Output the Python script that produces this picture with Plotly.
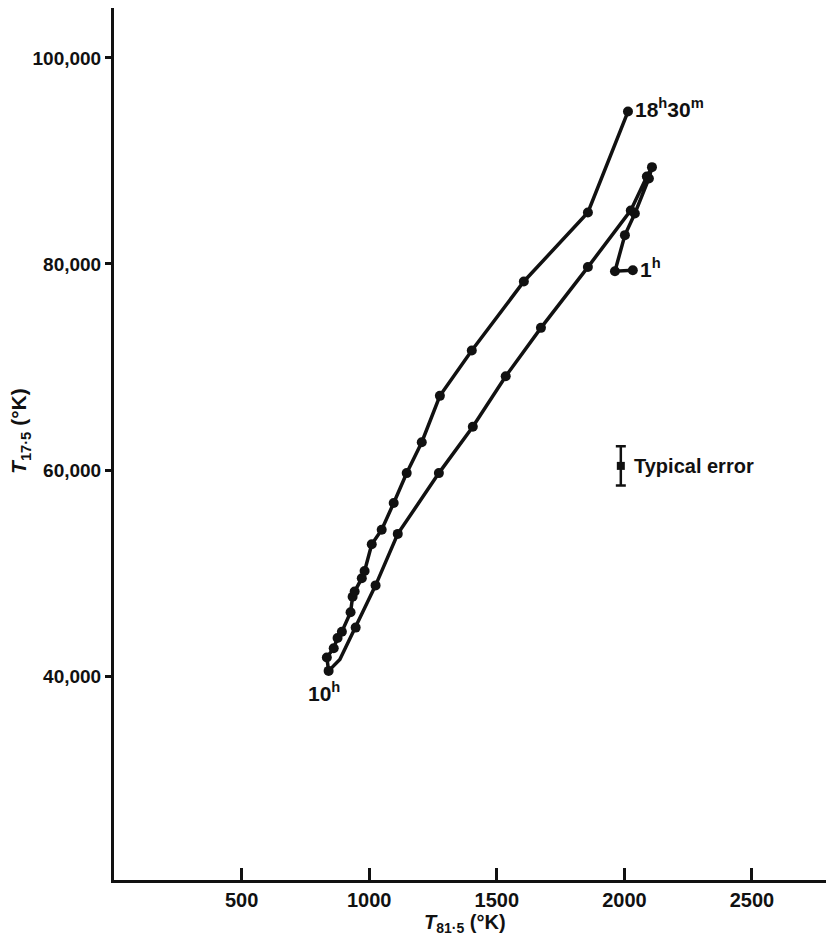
import plotly.graph_objects as go

# Temperature track, in time order from 1h to 18h30m
t81 = [2033, 1963, 2002, 2041, 2096, 2108, 2088, 2025,
       1857, 1673, 1535, 1406, 1273, 1112, 1025, 947, 885, 841,
       834, 861, 876, 893, 927, 935, 943, 971, 982, 1010, 1049,
       1096, 1147, 1206, 1277, 1402, 1606, 1857, 2014]
t17 = [79400, 79300, 82800, 84900, 88300, 89400, 88500, 85200,
       79700, 73800, 69100, 64200, 59700, 53800, 48800, 44700, 41600, 40500,
       41800, 42700, 43700, 44300, 46200, 47700, 48200, 49500, 50200, 52800, 54200,
       56800, 59700, 62700, 67200, 71600, 78300, 85000, 94800]
# Markers drawn on the track (the turn at the 10h end carries no dot)
dot_idx = [i for i in range(len(t81)) if i != 16]

# Typical error bar
err_x = [1986]
err_y = [60400]
err_half = [1900]

x_ticks = [500, 1000, 1500, 2000, 2500]
y_ticks = [40000, 60000, 80000, 100000]
y_ticklabels = ["40,000", "60,000", "80,000", "100,000"]

FONT = "Liberation Sans"
INK = "#111111"

fig = go.Figure()
fig.add_trace(go.Scatter(
    x=t81, y=t17, mode="lines",
    line=dict(color=INK, width=3.5), hoverinfo="skip", showlegend=False))
fig.add_trace(go.Scatter(
    x=[t81[i] for i in dot_idx], y=[t17[i] for i in dot_idx], mode="markers",
    marker=dict(color=INK, size=10, symbol="circle"), showlegend=False))
fig.add_trace(go.Scatter(
    x=err_x, y=err_y, mode="markers",
    marker=dict(color=INK, size=8, symbol="square"),
    error_y=dict(type="data", array=err_half, visible=True,
                 color=INK, thickness=2.5, width=5),
    showlegend=False))

ann_font = dict(family=FONT, size=21, color=INK, weight=700)
fig.add_annotation(x=2014, y=94800, text="18<sup>h</sup>30<sup>m</sup>",
                   showarrow=False, xanchor="left", yanchor="middle",
                   xshift=5, yshift=4, font=ann_font)
fig.add_annotation(x=2033, y=79400, text="1<sup>h</sup>",
                   showarrow=False, xanchor="left", yanchor="middle",
                   xshift=5, yshift=2, font=ann_font)
fig.add_annotation(x=830, y=40500, text="10<sup>h</sup>",
                   showarrow=False, xanchor="center", yanchor="top",
                   xshift=-2, yshift=-6, font=ann_font)
fig.add_annotation(x=err_x[0], y=err_y[0], text="Typical error",
                   showarrow=False, xanchor="left", yanchor="middle",
                   xshift=11, font=dict(family=FONT, size=20, color=INK, weight=700))

# Axis titles
fig.add_annotation(xref="paper", yref="paper", x=-0.132, y=0.515,
                   text="<i>T</i><sub>17·5</sub> (°K)", textangle=-90,
                   showarrow=False, xanchor="center", yanchor="middle",
                   font=dict(family=FONT, size=21, color=INK, weight=700))
fig.add_annotation(xref="paper", yref="paper", x=0.493, y=-0.033,
                   text="<i>T</i><sub>81·5</sub> (°K)",
                   showarrow=False, xanchor="center", yanchor="top",
                   font=dict(family=FONT, size=20, color=INK, weight=700))

fig.update_xaxes(
    range=[0, 2790], tickvals=x_ticks, ticks="inside", ticklen=12,
    tickwidth=3, tickcolor=INK, showline=True, linewidth=3, linecolor=INK,
    showgrid=False, zeroline=False,
    tickfont=dict(family=FONT, size=20, color=INK, weight=700))
fig.update_yaxes(
    range=[20200, 104850], tickvals=y_ticks, ticktext=y_ticklabels,
    ticks="outside", ticklen=6, tickwidth=3, tickcolor=INK,
    showline=True, linewidth=3, linecolor=INK,
    showgrid=False, zeroline=False,
    tickfont=dict(family=FONT, size=19, color=INK, weight=700))

fig.update_layout(
    width=826, height=941,
    margin=dict(l=114, r=0, t=8, b=61),
    plot_bgcolor="white", paper_bgcolor="white",
    showlegend=False)

fig.write_html("out.html")
